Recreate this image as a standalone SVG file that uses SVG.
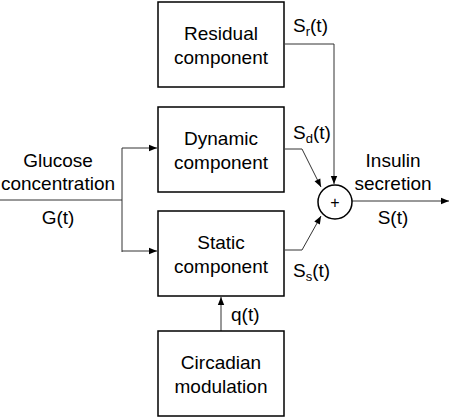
<svg xmlns="http://www.w3.org/2000/svg" width="450" height="418" viewBox="0 0 450 418">
<defs>
<style>
.box{fill:#fff;stroke:#000;stroke-width:1.5}
.ln{fill:none;stroke:#333;stroke-width:1}
text{font-family:"Liberation Sans",Arial,sans-serif;font-size:19px;fill:#000}
.c{text-anchor:middle}
.sub{font-size:13px}
</style>
<marker id="ah" viewBox="0 0 10 10" refX="10" refY="5" markerWidth="10" markerHeight="8" markerUnits="userSpaceOnUse" orient="auto">
<path d="M0,1 L10,5 L0,9 Z" fill="#000"/>
</marker>
</defs>
<rect width="450" height="418" fill="#fff"/>
<g id="connectors">
<path class="ln" d="M0,200 H122"/>
<path class="ln" d="M122,148 V252"/>
<path class="ln" d="M122,148 H157" marker-end="url(#ah)"/>
<path class="ln" d="M122,251 H157" marker-end="url(#ah)"/>
<path class="ln" d="M285,44 H334 V184" marker-end="url(#ah)"/>
<path class="ln" d="M285,149 H302 L321,187" marker-end="url(#ah)"/>
<path class="ln" d="M285,250 H302 L321,216" marker-end="url(#ah)"/>
<path class="ln" d="M352,201 H449" marker-end="url(#ah)"/>
<path class="ln" d="M221,331 V297" marker-end="url(#ah)"/>
</g>
<g id="residual">
<rect class="box" x="158" y="2" width="126" height="85"/>
<text class="c" x="221" y="40">Residual</text>
<text class="c" x="221" y="64">component</text>
</g>
<g id="dynamic">
<rect class="box" x="158" y="107" width="126" height="85"/>
<text class="c" x="221" y="145">Dynamic</text>
<text class="c" x="221" y="169">component</text>
</g>
<g id="static">
<rect class="box" x="158" y="211" width="126" height="85"/>
<text class="c" x="221" y="249">Static</text>
<text class="c" x="221" y="273">component</text>
</g>
<g id="circadian">
<rect class="box" x="158" y="331" width="126" height="85"/>
<text class="c" x="221" y="369">Circadian</text>
<text class="c" x="221" y="393">modulation</text>
</g>
<g id="sum">
<circle cx="335" cy="202" r="17" fill="#fff" stroke="#000" stroke-width="1.5"/>
<text class="c" x="335" y="208" style="font-size:16px">+</text>
</g>
<g id="labels">
<text class="c" x="58" y="167">Glucose</text>
<text class="c" x="58" y="190">concentration</text>
<text class="c" x="58" y="224">G(t)</text>
<text class="c" x="393" y="167">Insulin</text>
<text class="c" x="393" y="190">secretion</text>
<text class="c" x="393" y="224">S(t)</text>
<text x="293" y="32">S<tspan class="sub" dy="4">r</tspan><tspan dy="-4">(t)</tspan></text>
<text x="293" y="139">S<tspan class="sub" dy="4">d</tspan><tspan dy="-4">(t)</tspan></text>
<text x="293" y="277">S<tspan class="sub" dy="4">s</tspan><tspan dy="-4">(t)</tspan></text>
<text x="231" y="321">q(t)</text>
</g>
</svg>
